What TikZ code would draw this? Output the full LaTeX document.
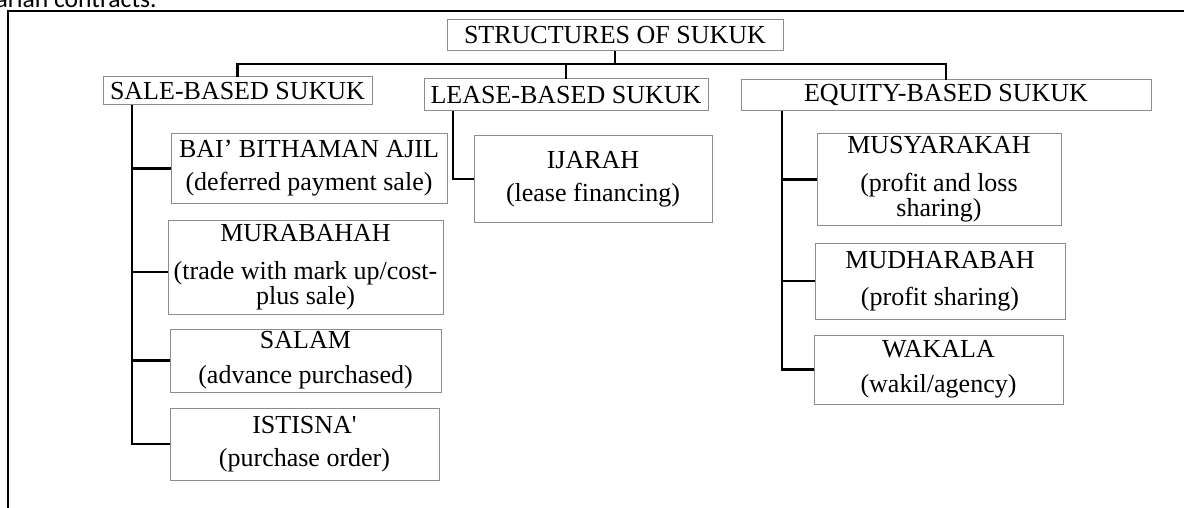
\documentclass[tikz,border=0pt]{standalone}
\usepackage{fontspec}
\setmainfont{Liberation Serif}
\newfontfamily\notefont{Carlito}
\usepackage{tikz}
\usetikzlibrary{positioning,calc}

\begin{document}
\begin{tikzpicture}[x=0.5pt,y=-0.5pt,>=latex,
        box/.style={draw=black!45, line width=0.5pt, inner sep=0pt, outer sep=0pt, align=center,
                    font=\fontsize{13pt}{15.6pt}\selectfont},
        link/.style={draw=black, line width=1.4pt},
        frame/.style={draw=black, line width=1.1pt}]
                \useasboundingbox (0,0) rectangle (1184,508);
                \begin{scope}
                    \clip (0,0) rectangle (1184,508);
                    \node[anchor=base east, inner sep=0pt, font=\notefont\fontsize{12.8pt}{14pt}\selectfont] (note) at (157,8) {Shariah contracts.};
                    \draw[frame] (8,508) -- (8,11) -- (1184,11);
                \end{scope}
                % top level
                \node[box, minimum width=168pt, minimum height=15.5pt] at (615,35.5) (root) {STRUCTURES OF SUKUK};
                \node[box, minimum width=134.5pt, minimum height=14pt] at (237.5,91) (sale) {SALE-BASED SUKUK};
                \node[box, minimum width=142pt, minimum height=16pt] at (566,95) (lease) {LEASE-BASED SUKUK};
                \node[box, minimum width=205pt, minimum height=15.5pt] at (946,95.5) (equity) {EQUITY-BASED SUKUK};
                % sale-based
                \node[box, minimum width=138pt, minimum height=34.5pt] at (309,168.5) (bai) {BAI’ BITHAMAN AJIL\\[0.8pt](deferred payment sale)};
                \node[box, minimum width=137.5pt, minimum height=47pt] at (305.5,267) (murab) {MURABAHAH\\[3.4pt](trade with mark up/cost-\\[-3.1pt]plus sale)};
                \node[box, minimum width=135.5pt, minimum height=31.5pt] at (305.5,360.5) (salam) {SALAM\\[2pt](advance purchased)};
                \node[box, minimum width=134.5pt, minimum height=36pt] at (304.5,444) (istisna) {ISTISNA\textquotesingle\\[1pt](purchase order)};
                % lease-based
                \node[box, minimum width=119pt, minimum height=43pt] at (593,179) (ijarah) {IJARAH\\[0.8pt](lease financing)};
                % equity-based
                \node[box, minimum width=122pt, minimum height=45.5pt] at (939,179.5) (musy) {MUSYARAKAH\\[3.4pt](profit and loss\\[-3.1pt]sharing)};
                \node[box, minimum width=125pt, minimum height=38pt] at (940,281) (mudh) {MUDHARABAH\\[3pt](profit sharing)};
                \node[box, minimum width=124.5pt, minimum height=34.5pt] at (938.5,369.5) (wakala) {WAKALA\\[2pt](wakil/agency)};
                % connectors
                \foreach \b in {sale,lease,equity}
                    \draw[link] (root.south) -- ++(0,13) -| (\b.north);
                \foreach \c in {bai,salam,istisna}
                    \draw[link] ([xshift=14.5pt]sale.south west) |- (\c.west);
                \draw[link] ([xshift=14.5pt]sale.south west) |- ([yshift=-2.5pt]murab.west);
                \draw[link] ([xshift=14.5pt]lease.south west) |- (ijarah.west);
                \foreach \c in {musy,mudh,wakala}
                    \draw[link] ([xshift=20.5pt]equity.south west) |- (\c.west);
            \end{tikzpicture}
\end{document}
